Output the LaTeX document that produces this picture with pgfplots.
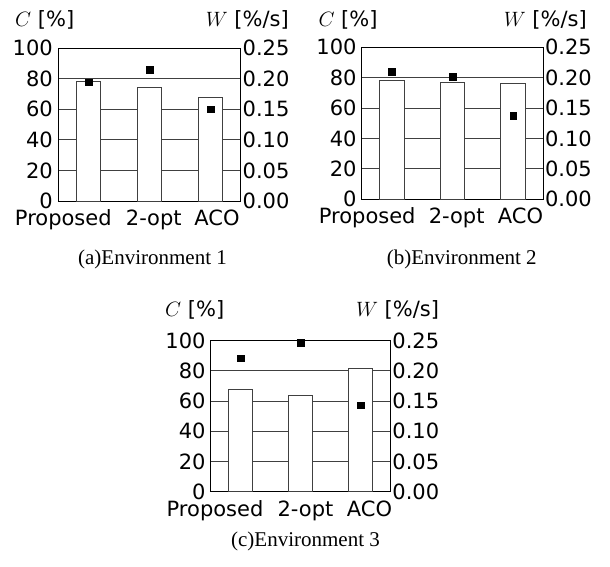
\documentclass[border=0pt]{standalone}
\usepackage{pgfplots}
\pgfplotsset{compat=1.18}
\usepackage{fontspec}
\setmainfont{DejaVu Sans}
\newfontfamily\capfont{Liberation Serif}
\newcommand{\tf}{\fontsize{21}{25}\selectfont}

\pgfplotsset{
  panelC/.style={
    scale only axis, anchor=south west,
    xmin=-0.5, xmax=2.5, ymin=0, ymax=100,
    ytick={0,20,40,60,80,100},
    ymajorgrids, major grid style={black!75, line width=0.9pt},
    axis line style={black, line width=1pt},
    major tick length=0pt,
    every tick label/.append style={font=\tf},
    /pgf/number format/assume math mode=true,
    xticklabels={Proposed,2-opt,ACO},
    xticklabel style={anchor=base, yshift=-24.5pt, inner sep=0pt},
    yticklabel style={inner xsep=5pt, inner ysep=0pt},
    ybar, bar width=0.4,
  },
  panelW/.style={
    scale only axis, anchor=south west,
    xmin=-0.5, xmax=2.5, ymin=0, ymax=0.25,
    axis x line=none, axis y line*=right,
    axis line style={black, line width=1pt},
    ytick={0,0.05,0.1,0.15,0.2,0.25},
    scaled y ticks=false,
    major tick length=0pt,
    every tick label/.append style={font=\tf},
    /pgf/number format/assume math mode=true,
    yticklabel style={inner xsep=1.5pt, inner ysep=0pt, /pgf/number format/.cd, fixed, fixed zerofill, precision=2},
  },
  barsty/.style={fill=white, draw=black!75, line width=0.9pt},
  marksty/.style={only marks, mark=square*, mark size=3.3pt, black},
}

\begin{document}
\begin{tikzpicture}
\useasboundingbox (0pt,0pt) rectangle (610pt,-566pt);

% ---------- (a) Environment 1 ----------
\begin{axis}[panelC, at={(58pt,-201pt)}, width=183pt, height=153pt,
  xtick={-0.413,1.070,2.107}]
\addplot[barsty] coordinates {(0,78) (1,74) (2,68)};
\end{axis}
\begin{axis}[panelW, at={(58pt,-201pt)}, width=183pt, height=153pt]
\addplot[marksty] coordinates {(0,0.194) (1,0.215) (2,0.150)};
\end{axis}
\node[anchor=base west, inner sep=0pt, font=\tf] at (15pt,-26pt) {$C$ [\%]};
\node[anchor=base east, inner sep=0pt, font=\tf] at (289pt,-26pt) {$W$ [\%/s]};
\node[anchor=base, inner sep=0pt, font=\capfont\tf] at (152.5pt,-264pt) {(a)Environment 1};

% ---------- (b) Environment 2 ----------
\begin{axis}[panelC, at={(361.7pt,-199.3pt)}, width=181.6pt, height=152pt,
  xtick={-0.409,1.069,2.123}]
\addplot[barsty] coordinates {(0,78) (1,77) (2,76)};
\end{axis}
\begin{axis}[panelW, at={(361.7pt,-199.3pt)}, width=181.6pt, height=152pt]
\addplot[marksty] coordinates {(0,0.210) (1,0.202) (2,0.138)};
\end{axis}
\node[anchor=base west, inner sep=0pt, font=\tf] at (318.3pt,-26pt) {$C$ [\%]};
\node[anchor=base east, inner sep=0pt, font=\tf] at (587pt,-26pt) {$W$ [\%/s]};
\node[anchor=base, inner sep=0pt, font=\capfont\tf] at (461.7pt,-264pt) {(b)Environment 2};

% ---------- (c) Environment 3 ----------
\begin{axis}[panelC, at={(210.7pt,-491.7pt)}, width=180pt, height=151pt,
  xtick={-0.428,1.080,2.147}]
\addplot[barsty] coordinates {(0,68) (1,64) (2,81.5)};
\end{axis}
\begin{axis}[panelW, at={(210.7pt,-491.7pt)}, width=180pt, height=151pt]
\addplot[marksty] coordinates {(0,0.221) (1,0.247) (2,0.143)};
\end{axis}
\node[anchor=base west, inner sep=0pt, font=\tf] at (165pt,-316pt) {$C$ [\%]};
\node[anchor=base east, inner sep=0pt, font=\tf] at (439.3pt,-316pt) {$W$ [\%/s]};
\node[anchor=base, inner sep=0pt, font=\capfont\tf] at (305.5pt,-546.7pt) {(c)Environment 3};
\end{tikzpicture}
\end{document}
